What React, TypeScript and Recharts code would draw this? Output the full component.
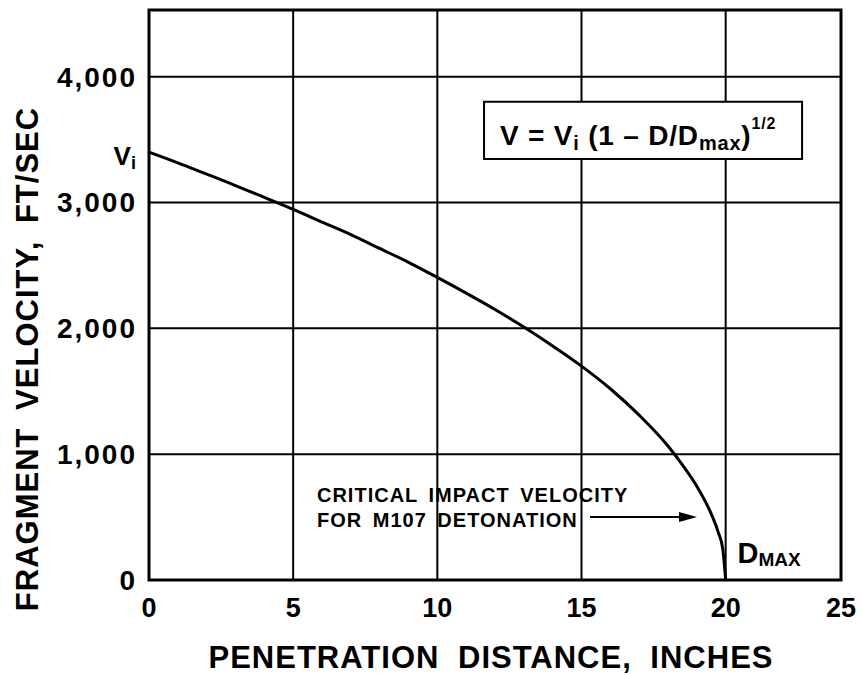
import { LineChart, Line, XAxis, YAxis, CartesianGrid, ReferenceArea, ReferenceDot } from 'recharts';

// penetration distance (inches) and fragment velocity (ft/sec)
const distance = [0, 1, 2, 3, 4, 5, 6, 7, 8, 9, 10, 11, 12, 13, 14, 15, 16, 17, 18, 18.5, 19, 19.5, 19.75, 19.9, 20];
const velocity = [3400, 3315, 3225, 3135, 3040, 2945, 2845, 2745, 2635, 2525, 2405, 2280, 2150, 2010, 1860, 1700, 1520, 1310, 1065, 915, 745, 525, 375, 245, 0];

const xTicks = [0, 5, 10, 15, 20, 24];
const xTickLabels = ['0', '5', '10', '15', '20', '25'];
const yTicks = [0, 1000, 2000, 3000, 4000];
const yTickLabels = ['0', '1,000', '2,000', '3,000', '4,000'];

const data = distance.map((d, i) => ({ d, v: velocity[i] }));

const FONT = "'Liberation Sans', Arial, Helvetica, sans-serif";

export default function App() {
  return (
    <div style={{ position: 'absolute', left: 0, top: 0, background: '#fff' }}>
      <LineChart width={862} height={675} data={data} margin={{ top: 10, right: 21, bottom: 0, left: 0 }}>
        <CartesianGrid stroke="#000" strokeWidth={2} />
        <XAxis
          dataKey="d"
          type="number"
          domain={[0, 24]}
          ticks={xTicks}
          tickFormatter={(v: number) => xTickLabels[xTicks.indexOf(v)]}
          height={95}
          axisLine={false}
          tickLine={false}
          tickSize={0}
          tickMargin={18}
          tick={{ fontSize: 27, fontWeight: 700, fill: '#000', fontFamily: FONT }}
          label={{
            content: ({ viewBox }: any) => (
              <text
                x={viewBox.x + viewBox.width / 2 - 4}
                y={viewBox.y + 88}
                textAnchor="middle"
                fontSize={31}
                fontWeight={700}
                fontFamily={FONT}
                letterSpacing={1}
                wordSpacing={9}
                fill="#000"
              >
                PENETRATION DISTANCE, INCHES
              </text>
            ),
          }}
        />
        <YAxis
          type="number"
          domain={[0, 4530]}
          ticks={yTicks}
          tickFormatter={(v: number) => yTickLabels[yTicks.indexOf(v)]}
          width={149}
          axisLine={false}
          tickLine={false}
          tickSize={0}
          tickMargin={12}
          tick={{ fontSize: 28, fontWeight: 700, fill: '#000', fontFamily: FONT, letterSpacing: 2 }}
          label={{
            content: ({ viewBox }: any) => (
              <text
                transform={`translate(38, ${viewBox.y + viewBox.height / 2 + 64}) rotate(-90)`}
                textAnchor="middle"
                fontSize={31}
                fontWeight={700}
                fontFamily={FONT}
                letterSpacing={1}
                wordSpacing={8}
                fill="#000"
              >
                FRAGMENT VELOCITY, FT/SEC
              </text>
            ),
          }}
        />
        <ReferenceArea x1={0} x2={24} y1={0} y2={4530} fill="none" stroke="#000" strokeWidth={3} fillOpacity={0} />
        <ReferenceArea
          x1={11.62}
          x2={22.65}
          y1={3345}
          y2={3800}
          fill="#fff"
          fillOpacity={1}
          stroke="#000"
          strokeWidth={2}
          label={(p: any) => {
            const { x, y } = p.viewBox;
            return (
              <text x={x + 16} y={y + 43} fontFamily={FONT} fontWeight={700} fill="#000" fontSize={28} letterSpacing={0.8}>
                <tspan>V = V</tspan>
                <tspan fontSize={20} dy={5}>i</tspan>
                <tspan dy={-5}> (1 – D/D</tspan>
                <tspan fontSize={20} dy={5}>max</tspan>
                <tspan dy={-5}>)</tspan>
                <tspan fontSize={16} dy={-16}>1/2</tspan>
              </text>
            );
          }}
        />
        <Line dataKey="v" type="monotone" stroke="#000" strokeWidth={3} dot={false} isAnimationActive={false} />
        <ReferenceDot
          x={0}
          y={3400}
          r={0.1}
          fill="none"
          stroke="none"
          label={(p: any) => {
            const { x, y } = p.viewBox;
            return (
              <text x={x - 13} y={y + 13} textAnchor="end" fontFamily={FONT} fontWeight={700} fill="#000" fontSize={26}>
                V<tspan fontSize={18} dy={4}>i</tspan>
              </text>
            );
          }}
        />
        <ReferenceDot
          x={20}
          y={0}
          r={0.1}
          fill="none"
          stroke="none"
          label={(p: any) => {
            const { x, y } = p.viewBox;
            return (
              <text x={x + 12} y={y - 17} fontFamily={FONT} fontWeight={700} fill="#000" fontSize={29}>
                D<tspan fontSize={19} dy={3}>MAX</tspan>
              </text>
            );
          }}
        />
        <ReferenceDot
          x={5.83}
          y={500}
          r={0.1}
          fill="none"
          stroke="none"
          label={(p: any) => {
            const { x, y } = p.viewBox;
            return (
              <g fontFamily={FONT} fontWeight={700} fill="#000" fontSize={20}>
                <text x={x} y={y - 15} letterSpacing={1} wordSpacing={4}>
                  CRITICAL IMPACT VELOCITY
                </text>
                <text x={x} y={y + 10} letterSpacing={1} wordSpacing={4}>
                  FOR M107 DETONATION
                </text>
                <line x1={x + 273} y1={y} x2={x + 366} y2={y} stroke="#000" strokeWidth={2} />
                <polygon points={`${x + 380},${y} ${x + 362},${y - 5} ${x + 362},${y + 5}`} fill="#000" />
              </g>
            );
          }}
        />
      </LineChart>
    </div>
  );
}
